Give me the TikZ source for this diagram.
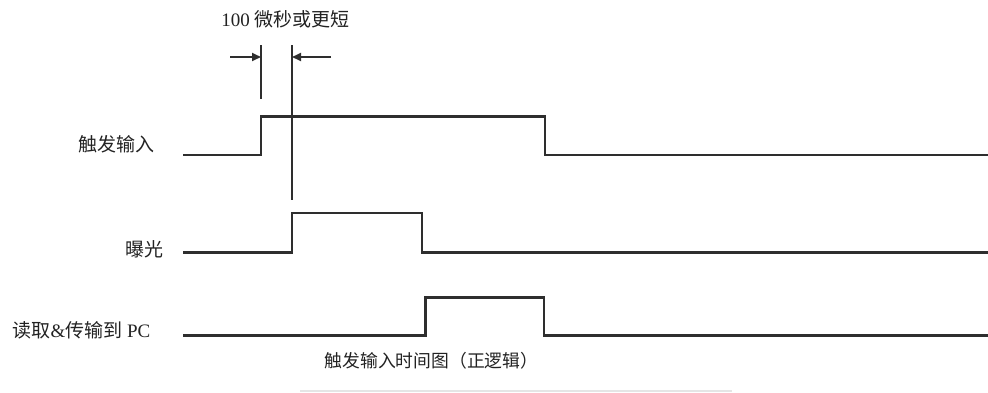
\documentclass[tikz,border=0pt]{standalone}
\usepackage{fontspec}
\setmainfont{Liberation Serif}
\newfontfamily\cjk{Noto Sans CJK SC}
\usetikzlibrary{arrows.meta}
\definecolor{sig}{HTML}{2E2E2E}
\definecolor{txt}{HTML}{222222}
\tikzset{
  wave/.style={draw=sig, line width=2.1pt, line join=miter},
  marker/.style={draw=sig, line width=1.9pt},
  dimarrow/.style={draw=sig, line width=1.9pt, -{Triangle[length=9pt,width=8pt]}},
  lbl/.style={font=\fontsize{19}{22}\selectfont, text=txt, inner sep=0pt},
  caplbl/.style={font=\fontsize{17.8}{21}\selectfont, text=txt, inner sep=0pt},
}
\begin{document}
\begin{tikzpicture}[x=1pt,y=-1pt]
\useasboundingbox (0,0) rectangle (988,392);
% labels
\node[lbl, anchor=center] (top) at (285.5,19) {100 {\cjk 微秒或更短}};
\node[lbl, anchor=east] (ltrig) at (154.5,144) {\cjk 触发输入};
\node[lbl, anchor=east] (lexp) at (164,249) {\cjk 曝光};
\node[lbl, anchor=east] (lread) at (150.5,330) {{\cjk 读取}\&{\cjk 传输到} PC};
\node[caplbl, anchor=center] (cap) at (431.5,361) {\cjk 触发输入时间图（正逻辑）};
% coordinates
\coordinate (t0) at (183,155); \coordinate (t1) at (261,155); \coordinate (t2) at (261,116.5);
\coordinate (t3) at (545,116.5); \coordinate (t4) at (545,155); \coordinate (t5) at (988,155);
\coordinate (e0) at (183,252.5); \coordinate (e1) at (292,252.5); \coordinate (e2) at (292,213);
\coordinate (e3) at (422,213); \coordinate (e4) at (422,252.5); \coordinate (e5) at (988,252.5);
\coordinate (r0) at (183,335.5); \coordinate (r1) at (425.5,335.5); \coordinate (r2) at (425.5,297.5);
\coordinate (r3) at (544,297.5); \coordinate (r4) at (544,335.5); \coordinate (r5) at (988,335.5);
% waveforms
\draw[wave] (t0) -- (t1) -- (t2) -- (t3) -- (t4) -- (t5);
\draw[wave] (e0) -- (e1) -- (e2) -- (e3) -- (e4) -- (e5);
\draw[wave] (r0) -- (r1) -- (r2) -- (r3) -- (r4) -- (r5);
% timing markers
\coordinate (m1a) at (261,45); \coordinate (m1b) at (261,99);
\coordinate (m2a) at (292,45); \coordinate (m2b) at (292,200);
\draw[marker] (m1a) -- (m1b);
\draw[marker] (m2a) -- (m2b);
\coordinate (al) at (230,57); \coordinate (alt) at (261,57);
\coordinate (ar) at (331,57); \coordinate (art) at (292,57);
\draw[dimarrow] (al) -- (alt);
\draw[dimarrow] (ar) -- (art);
% faint line at bottom
\coordinate (f0) at (300,391); \coordinate (f1) at (732,391);
\draw[draw=black!10, line width=1.2pt] (f0) -- (f1);
\end{tikzpicture}
\end{document}
